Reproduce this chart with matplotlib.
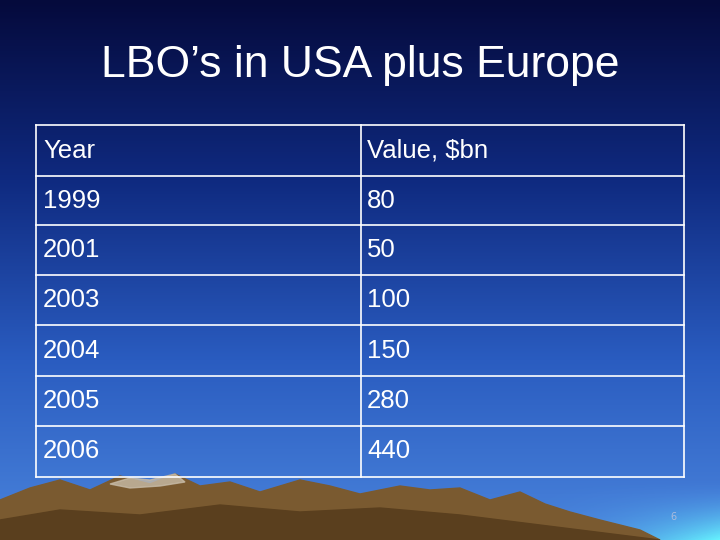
import numpy as np
import matplotlib
matplotlib.use('Agg')
import matplotlib.pyplot as plt
from matplotlib.colors import LinearSegmentedColormap

title = 'LBO’s in USA plus Europe'
header = ['Year', 'Value, $bn']
years = ['1999', '2001', '2003', '2004', '2005', '2006']
values = ['80', '50', '100', '150', '280', '440']

fig = plt.figure(figsize=(7.2, 5.4), dpi=100)
ax = fig.add_axes([0, 0, 1, 1])
ax.set_xlim(0, 720)
ax.set_ylim(540, 0)
ax.axis('off')

# background gradient
cmap = LinearSegmentedColormap.from_list('bg', ['#050a3c', '#0f2a80', '#2a5cc0', '#4a84dc'])
grad = np.linspace(0, 1, 256).reshape(-1, 1)
ax.imshow(grad, cmap=cmap, extent=[0, 720, 540, 0], aspect='auto', zorder=0)

# cyan glow bottom right
xx, yy = np.meshgrid(np.linspace(0, 1, 200), np.linspace(0, 1, 60))
glow = np.clip(yy * xx, 0, 1)
ax.imshow(glow, cmap=LinearSegmentedColormap.from_list('g', [(0.3, 0.55, 0.9, 0), (0.4, 0.95, 1.0, 1)]),
          extent=[520, 720, 540, 480], aspect='auto', zorder=1)

# mountains
mx = [0, 0, 30, 60, 90, 120, 150, 175, 200, 230, 260, 300, 330, 360, 400, 430, 460,
      490, 520, 545, 570, 600, 640, 660, 660]
my = [540, 500, 488, 480, 490, 476, 484, 474, 486, 482, 492, 480, 486, 494, 486, 490,
      488, 500, 492, 504, 512, 520, 530, 540, 540]
ax.fill(mx, my, color='#7a5a30', zorder=2)
ax.fill([0, 0, 60, 140, 220, 300, 380, 460, 540, 620, 660],
        [540, 520, 510, 515, 505, 512, 508, 515, 525, 535, 540], color='#5a3f1e', zorder=2)
ax.fill([110, 130, 150, 175, 185, 160, 130], [484, 478, 480, 474, 482, 486, 488],
        color='#c8bca8', zorder=3, alpha=0.8)

# table
left, mid, right = 36, 361, 684
rows = [125, 176, 225, 275, 325, 376, 426, 477]
for y in rows:
    ax.plot([left, right], [y, y], color='white', lw=1.2, zorder=4)
for x in [left, mid, right]:
    ax.plot([x, x], [rows[0], rows[-1]], color='white', lw=1.2, zorder=4)

cells = [header] + [[y, v] for y, v in zip(years, values)]
for i, (c1, c2) in enumerate(cells):
    yc = (rows[i] + rows[i + 1]) / 2
    ax.text(left + 7, yc, c1, color='white', fontsize=18.5, va='center', ha='left',
            family='Liberation Sans', zorder=5)
    ax.text(mid + 6, yc, c2, color='white', fontsize=18.5, va='center', ha='left',
            family='Liberation Sans', zorder=5)

ax.text(360, 66, title, color='white', fontsize=32, ha='center', va='center',
        family='Liberation Sans', zorder=5)
ax.text(673, 517, '6', color='#aabbdd', fontsize=7, ha='center', va='center', zorder=5)

fig.savefig('out.png', dpi=100)
